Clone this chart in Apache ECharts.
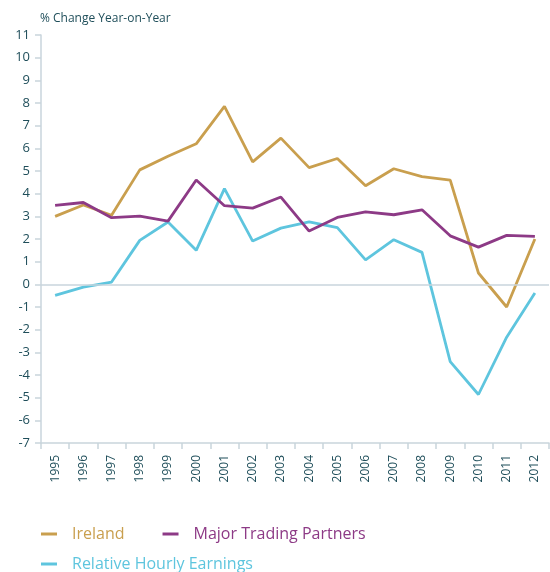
<!DOCTYPE html>
<html>
<head>
<meta charset="utf-8">
<script src="https://cdn.jsdelivr.net/npm/echarts@6/dist/echarts.min.js"></script>
<style>
  html, body { margin: 0; padding: 0; background: #fff; }
  #chart { width: 550px; height: 572px; }
</style>
</head>
<body>
<div id="chart"></div>
<script>
  var years = ['1995', '1996', '1997', '1998', '1999', '2000', '2001', '2002', '2003',
    '2004', '2005', '2006', '2007', '2008', '2009', '2010', '2011', '2012'];

  var ireland = [3.0, 3.5, 3.05, 5.05, 5.65, 6.2, 7.85, 5.4, 6.45,
    5.15, 5.55, 4.35, 5.1, 4.75, 4.6, 0.5, -1.0, 2.0];
  var tradingPartners = [3.48, 3.61, 2.94, 3.01, 2.79, 4.6, 3.47, 3.36, 3.85,
    2.35, 2.95, 3.2, 3.07, 3.29, 2.14, 1.64, 2.16, 2.12];
  var hourlyEarnings = [-0.49, -0.12, 0.1, 1.94, 2.75, 1.5, 4.22, 1.91, 2.48,
    2.76, 2.5, 1.08, 1.97, 1.41, -3.41, -4.86, -2.33, -0.38];

  var textColor = '#1f4e5a';
  var axisColor = '#c9d5dc';
  var colIreland = '#c99f4e';
  var colPartners = '#8d3a86';
  var colEarnings = '#5ec5de';
  var font = '"Open Sans", "Noto Sans", sans-serif';

  var chart = echarts.init(document.getElementById('chart'));

  var option = {
    animation: false,
    textStyle: { fontFamily: font },
    title: {
      text: '% Change Year-on-Year',
      left: 35,
      top: 8,
      textStyle: { fontSize: 12, fontWeight: 'normal', color: textColor, fontFamily: font }
    },
    grid: { left: 41, right: 1, top: 35, bottom: 129, containLabel: false },
    legend: [{
      left: 36, top: 521,
      itemWidth: 16, itemHeight: 3, itemGap: 38,
      icon: 'rect',
      textStyle: { fontSize: 16, fontFamily: font, padding: [0, 0, 0, 10] },
      data: [
        { name: 'Ireland', textStyle: { color: colIreland } },
        { name: 'Major Trading Partners', textStyle: { color: colPartners } }
      ]
    }, {
      left: 36, top: 551,
      itemWidth: 16, itemHeight: 3,
      icon: 'rect',
      textStyle: { fontSize: 16, fontFamily: font, padding: [0, 0, 0, 10] },
      data: [
        { name: 'Relative Hourly Earnings', textStyle: { color: colEarnings } }
      ]
    }],
    xAxis: {
      type: 'category',
      data: years,
      boundaryGap: true,
      axisLine: { onZero: false, lineStyle: { color: axisColor, width: 1.5 } },
      axisTick: { show: true, length: 6, lineStyle: { color: axisColor, width: 1.5 } },
      axisLabel: { rotate: 90, color: textColor, fontSize: 12, margin: 12, fontFamily: font },
      splitLine: { show: false }
    },
    yAxis: {
      type: 'value',
      min: -7,
      max: 11,
      interval: 1,
      axisLine: { show: true, lineStyle: { color: axisColor, width: 1.5 } },
      axisTick: { show: true, length: 6, lineStyle: { color: axisColor, width: 1.5 } },
      axisLabel: { color: textColor, fontSize: 13, margin: 11, fontFamily: font },
      splitLine: { show: false }
    },
    series: [{
      name: 'Ireland',
      type: 'line',
      data: ireland,
      symbol: 'none',
      color: colIreland,
      lineStyle: { width: 2.8, color: colIreland },
      z: 3,
      markLine: {
        silent: true,
        symbol: 'none',
        label: { show: false },
        lineStyle: { color: axisColor, width: 1.5, type: 'solid' },
        data: [{ yAxis: 0 }]
      }
    }, {
      name: 'Major Trading Partners',
      type: 'line',
      data: tradingPartners,
      symbol: 'none',
      color: colPartners,
      lineStyle: { width: 2.8, color: colPartners },
      z: 4
    }, {
      name: 'Relative Hourly Earnings',
      type: 'line',
      data: hourlyEarnings,
      symbol: 'none',
      color: colEarnings,
      lineStyle: { width: 2.8, color: colEarnings },
      z: 2
    }]
  };

  chart.setOption(option);
</script>
</body>
</html>
